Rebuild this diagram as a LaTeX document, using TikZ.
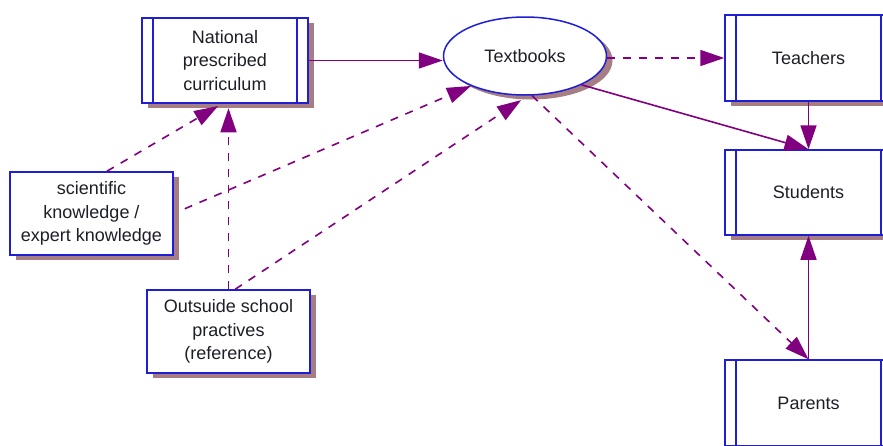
\documentclass[tikz,border=0pt]{standalone}
\usepackage{fontspec}
\setmainfont{Liberation Sans}
\usetikzlibrary{arrows.meta,shapes.geometric,shadows,calc}
\definecolor{boxblue}{RGB}{30,30,215}
\definecolor{arrowpurple}{RGB}{128,0,128}
\definecolor{shadowc}{RGB}{165,125,130}
\definecolor{txt}{RGB}{30,30,40}
\tikzset{
  base/.style={draw=boxblue, line width=1.5pt, fill=white, text=txt,
    font=\fontsize{18}{23.5}\selectfont, align=center, inner sep=0pt,
    drop shadow={shadow xshift=6pt, shadow yshift=-4.5pt, fill=shadowc, opacity=1}},
  plainbox/.style={base, rectangle, minimum width=163pt, minimum height=83pt},
  barbox/.style={base, rectangle, minimum width=166pt, minimum height=85pt,
    path picture={\draw[boxblue, line width=1.5pt]
      ([xshift=11pt]path picture bounding box.north west) -- ([xshift=11pt]path picture bounding box.south west)
      ([xshift=-11pt]path picture bounding box.north east) -- ([xshift=-11pt]path picture bounding box.south east);}},
  oval/.style={base, ellipse, minimum width=163pt, minimum height=78pt},
  conn/.style={draw=arrowpurple, line width=1.6pt, -{Triangle[length=24pt,width=16pt]}},
  dconn/.style={conn, dash pattern=on 8pt off 8pt},
}
\begin{document}
\begin{tikzpicture}[x=1pt,y=-1pt]
\useasboundingbox (0,0) rectangle (883,445);
\node[barbox] (national) at (225,60.5) {National\\prescribed\\curriculum};
\node[oval] (textbooks) at (525,56) {Textbooks};
\node[barbox, minimum width=167pt, minimum height=86pt] (teachers) at (808.5,58) {Teachers};
\node[barbox, minimum width=167pt] (students) at (808.5,192.5) {Students};
\node[barbox, minimum width=167pt, minimum height=86pt] (parents) at (808.5,403) {Parents};
\node[plainbox] (science) at (91.5,213.5) {scientific\\knowledge /\\expert knowledge};
\node[plainbox] (outside) at (228.5,331.5) {Outsuide school\\practives\\(reference)};

\draw[conn] (national.east) -- (national.east -| textbooks.west);
\draw[dconn] (textbooks.east |- teachers.west) -- (teachers.west);
\draw[conn] (textbooks.-27) -- (students.north);
\draw[conn] (teachers.south) -- (students.north);
\draw[dconn] (textbooks.-80) -- (parents.north);
\draw[conn] (parents.north) -- (students.south);
\draw[dconn, shorten >=4.5pt] (science.70) -- ([xshift=-3pt]national.south);
\draw[dconn, shorten <=12pt] (science.east) -- (textbooks.209);
\draw[dconn, shorten >=4.5pt] (outside.north) -- (outside.north |- national.south);
\draw[dconn, shorten >=8pt] (outside.81) -- (textbooks.-86);
\end{tikzpicture}
\end{document}
